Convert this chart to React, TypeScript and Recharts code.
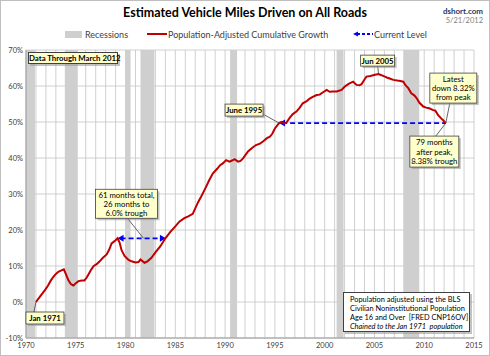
import React from 'react';
import {
  LineChart, Line, XAxis, YAxis, CartesianGrid, ReferenceArea, ReferenceLine, ReferenceDot,
} from 'recharts';

const years = [
  1971.0, 1971.4, 1971.9, 1972.2, 1972.5, 1972.75, 1973.0, 1973.25, 1973.5, 1973.8,
  1974.0, 1974.25, 1974.5, 1974.76, 1975.0, 1975.27, 1975.6, 1975.87, 1976.1, 1976.3,
  1976.55, 1976.8, 1977.1, 1977.4, 1977.7, 1978.1, 1978.35, 1978.6, 1978.9, 1979.2,
  1979.4, 1979.6, 1979.9, 1980.3, 1980.6, 1981.0, 1981.3, 1981.5, 1981.9, 1982.2,
  1982.6, 1983.0, 1983.5, 1984.0, 1984.5, 1985.0, 1985.4, 1985.9, 1986.3, 1986.75,
  1987.0, 1987.3, 1987.6, 1988.0, 1988.4, 1988.76, 1989.2, 1989.5, 1989.77, 1990.1,
  1990.44, 1990.7, 1990.95, 1991.3, 1991.55, 1991.8, 1992.3, 1992.7, 1993.1, 1993.5,
  1993.8, 1994.2, 1994.5, 1994.75, 1995.0, 1995.42, 1995.65, 1995.9, 1996.15, 1996.5,
  1996.8, 1997.16, 1997.5, 1997.8, 1998.2, 1998.5, 1998.8, 1999.2, 1999.5, 1999.8,
  2000.2, 2000.5, 2000.8, 2001.2, 2001.7, 2002.0, 2002.4, 2002.86, 2003.2, 2003.5,
  2003.7, 2004.0, 2004.2, 2004.6, 2005.05, 2005.42, 2005.7, 2006.05, 2006.3, 2006.6,
  2006.9, 2007.3, 2007.6, 2007.9, 2008.1, 2008.4, 2008.7, 2009.0, 2009.25, 2009.5,
  2009.9, 2010.2, 2010.5, 2010.9, 2011.1, 2011.4, 2011.7, 2011.9, 2012.17,
];
const growth = [
  0.0, 1.5, 3.3, 4.5, 6.0, 7.0, 7.8, 8.4, 8.7, 9.1,
  7.8, 6.1, 5.0, 4.6, 5.2, 5.8, 6.0, 6.0, 6.8, 7.8,
  9.0, 10.0, 10.5, 11.3, 12.2, 13.2, 14.5, 16.3, 16.9, 17.7,
  16.5, 14.4, 12.8, 11.7, 11.3, 11.0, 11.1, 11.8, 10.9, 11.3,
  12.3, 13.8, 15.5, 17.7, 19.5, 21.0, 22.3, 23.3, 23.8, 24.5,
  26.0, 27.8, 29.3, 31.5, 33.8, 35.7, 37.0, 38.0, 38.5, 39.4,
  39.0, 39.3, 39.7, 39.0, 39.2, 39.9, 41.8, 42.8, 43.6, 44.0,
  44.6, 45.5, 45.9, 46.8, 48.2, 49.7, 50.0, 49.6, 49.8, 51.2,
  52.2, 52.9, 54.0, 55.2, 55.8, 56.5, 57.0, 57.5, 57.6, 58.2,
  58.9, 58.4, 58.5, 58.5, 58.9, 59.8, 60.6, 61.2, 60.3, 60.2,
  60.5, 61.8, 62.6, 62.8, 63.1, 63.3, 63.0, 62.6, 62.3, 62.0,
  61.7, 61.5, 61.4, 61.2, 60.3, 59.4, 58.0, 57.4, 56.6, 55.4,
  54.3, 54.0, 53.8, 53.3, 53.2, 51.9, 51.0, 50.5, 49.7,
];
const data = years.map((y, i) => ({ year: y, growth: growth[i] }));

const recessionStarts = [1970.0, 1973.9, 1980.0, 1981.5, 1990.5, 2001.2, 2007.9];
const recessionEnds = [1970.9, 1975.2, 1980.5, 1982.9, 1991.2, 2001.9, 2009.5];

const xTicks = [1970, 1975, 1980, 1985, 1990, 1995, 2000, 2005, 2010, 2015];
const gridYears = [
  1970, 1971, 1972, 1973, 1974, 1975, 1976, 1977, 1978, 1979, 1980, 1981, 1982, 1983, 1984,
  1985, 1986, 1987, 1988, 1989, 1990, 1991, 1992, 1993, 1994, 1995, 1996, 1997, 1998, 1999,
  2000, 2001, 2002, 2003, 2004, 2005, 2006, 2007, 2008, 2009, 2010, 2011, 2012, 2013, 2014, 2015,
];
const yTicks = [-10, 0, 10, 20, 30, 40, 50, 60, 70];

// key points
const startPoint = { x: 1971.0, y: 0 };
const peak1979 = { x: 1979.2, y: 17.7 };
const recover1984 = { x: 1984.05, y: 17.7 };
const mid1981 = { x: 1981.8, y: 17.7 };
const june1995 = { x: 1995.42, y: 49.7 };
const jun2005 = { x: 2005.42, y: 63.3 };
const latest = { x: 2012.17, y: 49.7 };

const FONT = 'Lato, "Open Sans", sans-serif';
const RED = '#c00000';
const BLUE = '#0000ff';

type Callout = {
  lines: string[];
  bold?: boolean;
  dx: number; dy: number; w: number; h: number;
  ax: number; ay: number;
};

const makeCallout = (c: Callout) => (props: any) => {
  const { cx, cy } = props;
  const bx = cx + c.dx;
  const by = cy + c.dy;
  const lh = 9.2;
  const startY = by + c.h / 2 - ((c.lines.length - 1) * lh) / 2;
  return (
    <g>
      <line x1={bx + c.ax} y1={by + c.ay} x2={cx} y2={cy} stroke="#404040" strokeWidth={0.8} />
      <rect x={bx + 2} y={by + 2} width={c.w} height={c.h} fill="#9a9a9a" opacity={0.6} />
      <rect x={bx} y={by} width={c.w} height={c.h} fill="#ffffcc" stroke="#404040" strokeWidth={0.8} />
      {c.lines.map((t, i) => (
        <text
          key={i}
          x={bx + c.w / 2}
          y={startY + i * lh}
          textAnchor="middle"
          dominantBaseline="central"
          fontFamily={FONT}
          fontSize={7.8}
          fontWeight={c.bold ? 700 : 400}
          fill="#000"
        >
          {t}
        </text>
      ))}
    </g>
  );
};

const arrowLine = (both: boolean) => (p: any) => {
  const { x1, y1, x2, y2 } = p;
  const left = Math.min(x1, x2);
  const right = Math.max(x1, x2);
  const y = y1;
  return (
    <g>
      <line x1={left + 3} y1={y} x2={both ? right - 3 : right} y2={y2} stroke={BLUE} strokeWidth={1.8} strokeDasharray="5 3" />
      <polygon points={`${left},${y} ${left + 6},${y - 3.5} ${left + 6},${y + 3.5}`} fill={BLUE} />
      {both && <polygon points={`${right},${y} ${right - 6},${y - 3.5} ${right - 6},${y + 3.5}`} fill={BLUE} />}
    </g>
  );
};

const abs = (x: number, y: number): React.CSSProperties => ({
  position: 'absolute', left: x, top: y, whiteSpace: 'nowrap', fontFamily: FONT, lineHeight: 1,
});

export default function App() {
  return (
    <div style={{ position: 'absolute', left: 0, top: 0, width: 490, height: 356, background: '#fff', overflow: 'hidden' }}>
      <div style={{ position: 'absolute', left: 0, top: 0, width: 488, height: 354, border: '1px solid #bfbfbf' }} />
      <LineChart
        width={490}
        height={356}
        data={data}
        margin={{ top: 50, right: 16, bottom: 4, left: 4 }}
      >
        {recessionStarts.map((s, i) => (
          <ReferenceArea key={i} x1={s} x2={recessionEnds[i]} y1={-10} y2={70} fill="#cfcfcf" fillOpacity={1} stroke="none" ifOverflow="hidden" />
        ))}
        <CartesianGrid verticalValues={gridYears} stroke="#c4c4c4" strokeWidth={0.8} />
        <XAxis
          dataKey="year"
          type="number"
          domain={[1970, 2015]}
          ticks={xTicks}
          interval={0}
          height={14}
          tickSize={0}
          tickMargin={5}
          axisLine={{ stroke: '#9a9a9a' }}
          tick={{ fontSize: 7.5, fill: '#404040', fontFamily: FONT }}
        />
        <YAxis
          type="number"
          domain={[-10, 70]}
          ticks={yTicks}
          interval={0}
          width={22}
          tickSize={0}
          tickMargin={3}
          axisLine={{ stroke: '#9a9a9a' }}
          tickFormatter={(v: number) => `${v}%`}
          tick={{ fontSize: 7.5, fill: '#404040', fontFamily: FONT }}
        />
        <ReferenceLine
          segment={[june1995, latest]}
          stroke={BLUE}
          shape={arrowLine(false)}
        />
        <ReferenceLine
          segment={[peak1979, recover1984]}
          stroke={BLUE}
          shape={arrowLine(true)}
        />
        <Line
          dataKey="growth"
          type="linear"
          stroke={RED}
          strokeWidth={2}
          dot={false}
          isAnimationActive={false}
        />
        <ReferenceDot x={startPoint.x} y={startPoint.y} r={0}
          shape={makeCallout({ lines: ['Jan 1971'], bold: true, dx: -10, dy: 10, w: 38, h: 12, ax: 8, ay: 0 })} />
        <ReferenceDot x={mid1981.x} y={mid1981.y} r={0}
          shape={makeCallout({ lines: ['61 months total,', '26 months to', '6.0% trough'], dx: -48, dy: -49, w: 62, h: 29, ax: 32, ay: 29 })} />
        <ReferenceDot x={june1995.x} y={june1995.y} r={0}
          shape={makeCallout({ lines: ['June 1995'], bold: true, dx: -54, dy: -19, w: 38, h: 12, ax: 38, ay: 10 })} />
        <ReferenceDot x={jun2005.x} y={jun2005.y} r={0}
          shape={makeCallout({ lines: ['Jun 2005'], bold: true, dx: -18, dy: -19, w: 34, h: 11, ax: 17, ay: 11 })} />
        <ReferenceDot x={latest.x} y={latest.y} r={0}
          shape={makeCallout({ lines: ['Latest', 'down 8.32%', 'from peak'], dx: -16, dy: -50, w: 47, h: 30, ax: 20, ay: 30 })} />
        <ReferenceDot x={latest.x} y={latest.y} r={0}
          shape={makeCallout({ lines: ['79 months', 'after peak,', '8.38% trough'], dx: -36, dy: 13, w: 49, h: 31, ax: 26, ay: 0 })} />
      </LineChart>

      <div style={{ ...abs(0, 7), width: 490, textAlign: 'center', fontSize: 12.5, fontWeight: 700, color: '#000' }}>
        Estimated Vehicle Miles Driven on All Roads
      </div>
      <div style={{ ...abs(0, 7), width: 483, textAlign: 'right', fontSize: 8, fontWeight: 700, color: '#1f3864' }}>dshort.com</div>
      <div style={{ ...abs(0, 17), width: 483, textAlign: 'right', fontSize: 7.5, color: '#7f7f7f' }}>5/21/2012</div>

      <div style={{ position: 'absolute', left: 65, top: 31, width: 17, height: 7, background: '#cfcfcf' }} />
      <div style={{ ...abs(85, 29.5), fontSize: 9, color: '#404040' }}>Recessions</div>
      <div style={{ position: 'absolute', left: 147, top: 33, width: 20, height: 2, background: RED }} />
      <div style={{ ...abs(168, 29.5), fontSize: 9, color: '#404040' }}>Population-Adjusted Cumulative Growth</div>
      <svg style={{ position: 'absolute', left: 352, top: 30 }} width={22} height={8}>
        <line x1={5} y1={4} x2={21} y2={4} stroke={BLUE} strokeWidth={1.8} strokeDasharray="3 2" />
        <polygon points="1,4 6,1.5 6,6.5" fill={BLUE} />
      </svg>
      <div style={{ ...abs(374, 29.5), fontSize: 9, color: '#404040' }}>Current Level</div>

      <div style={{ position: 'absolute', left: 30, top: 54, width: 90, height: 12, background: '#9a9a9a', opacity: 0.6 }} />
      <div style={{ ...abs(28, 52), width: 90, height: 12, boxSizing: 'border-box', border: '0.8px solid #404040', background: '#ffffcc', fontSize: 7.8, fontWeight: 700, textAlign: 'center', paddingTop: 2 }}>
        Data Through March 2012
      </div>

      <div style={{ position: 'absolute', left: 345, top: 294, width: 127, height: 40, background: '#9a9a9a', opacity: 0.6 }} />
      <div style={{ ...abs(343, 292), width: 127, height: 40, boxSizing: 'border-box', border: '0.8px solid #404040', background: '#fff', fontSize: 7.4, padding: '2px 0 0 6px', lineHeight: '9px', color: '#000' }}>
        <div>Population adjusted using the BLS</div>
        <div>Civilian Noninstitutional Population</div>
        <div>Age 16 and Over&nbsp; [FRED CNP16OV]</div>
        <div style={{ fontStyle: 'italic' }}>Chained to the Jan 1971&nbsp; population</div>
      </div>
    </div>
  );
}
